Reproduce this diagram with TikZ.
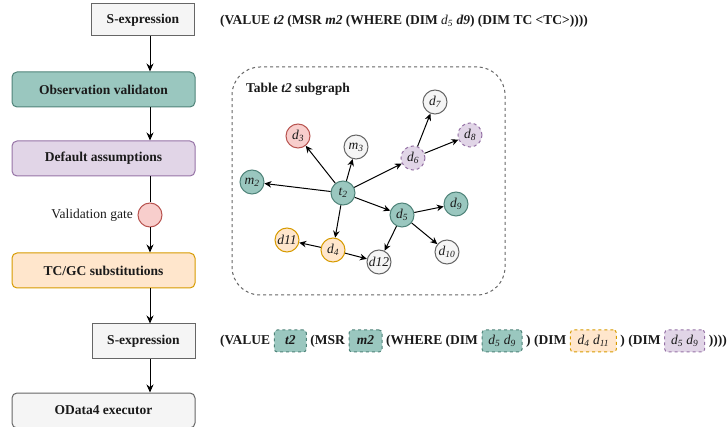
\documentclass[tikz,border=0pt]{standalone}
\usepackage{fontspec}
\setmainfont{Liberation Serif}
\usetikzlibrary{arrows.meta,positioning}
\definecolor{tealF}{HTML}{9AC7BF}
\definecolor{tealD}{HTML}{4F8379}
\definecolor{purF}{HTML}{E1D5E7}
\definecolor{purD}{HTML}{9673A6}
\definecolor{redF}{HTML}{F8CECC}
\definecolor{redD}{HTML}{B85450}
\definecolor{orF}{HTML}{FFE6CC}
\definecolor{orD}{HTML}{D79B00}
\definecolor{grF}{HTML}{F5F5F5}
\definecolor{grD}{HTML}{666666}
\definecolor{txtC}{HTML}{1A1A1A}
\begin{document}
\begin{tikzpicture}[x=1pt,y=-1pt,
  base/.style={font=\fontsize{13.5}{16}\selectfont, text=txtC},
  flow/.style={base, draw=grD, fill=grF, line width=1pt, minimum width=183pt, minimum height=35pt, rounded corners=5pt, inner sep=0, font=\fontsize{13.5}{16}\selectfont\bfseries},
  sbox/.style={base, draw=grD, fill=grF, line width=1pt, minimum width=103pt, minimum height=34pt, inner sep=0, font=\fontsize{13.5}{16}\selectfont\bfseries},
  arr/.style={-{Stealth[length=8pt,width=7pt]}, line width=1pt},
  garr/.style={-{Stealth[length=7pt,width=6.5pt]}, line width=1pt},
  gnode/.style={base, circle, minimum size=24pt, inner sep=0, line width=1pt, font=\fontsize{13.5}{16}\selectfont\itshape},
  gteal/.style={gnode, draw=tealD, fill=tealF},
  ggrey/.style={gnode, draw=grD, fill=grF},
  gpur/.style={gnode, draw=purD, fill=purF, dashed},
  gred/.style={gnode, draw=redD, fill=redF},
  gor/.style={gnode, draw=orD, fill=orF},
  txt/.style={base, inner sep=0, anchor=west, text height=9.5pt, text depth=3pt, font=\fontsize{13.5}{16}\selectfont\bfseries},
  ibox/.style={base, line width=1pt, dashed, rounded corners=3pt, minimum height=22pt, inner sep=0, text height=9.5pt, text depth=3pt, anchor=west, font=\fontsize{13.5}{16}\selectfont\itshape},
  iteal/.style={ibox, draw=tealD, fill=tealF},
  ipur/.style={ibox, draw=purD, fill=purF},
  ior/.style={ibox, draw=orD, fill=orF}
]
\useasboundingbox (0,0) rectangle (728,427);

% left flow
\node[sbox, minimum height=32pt] (sx1) at (143,20) {S-expression};
\node[flow, fill=tealF, draw=tealD] (obs) at (103.5,89.5) {Observation validaton};
\node[flow, fill=purF, draw=purD] (def) at (103.5,158.5) {Default assumptions};
\node[circle, draw=redD, fill=redF, line width=1pt, minimum size=24pt, inner sep=0] (gate) at (150,215) {};
\node[base, anchor=east, inner sep=0] (gatelbl) at (133,215) {Validation gate};
\node[flow, fill=orF, draw=orD] (tc) at (103.5,270.5) {TC/GC substitutions};
\node[sbox, minimum height=35pt] (sx2) at (143.5,341.5) {S-expression};
\node[flow] (od) at (103.5,410.5) {OData4 executor};

\draw[arr] (sx1.south -| gate.center) -- (obs.north -| gate.center);
\draw[arr] (obs.south -| gate.center) -- (def.north -| gate.center);
\draw[line width=1pt] (def.south -| gate.center) -- (gate.north);
\draw[arr] (gate.south) -- (tc.north -| gate.center);
\draw[arr] (tc.south -| gate.center) -- (sx2.north -| gate.center);
\draw[arr] (sx2.south -| gate.center) -- (od.north -| gate.center);

% top expression
\node[txt] (expr1) at (220,21) {(VALUE \textit{t2} (MSR \textit{m2} (WHERE (DIM {\mdseries\itshape d\textsubscript{5}} \textit{d9}) (DIM TC <TC>))))};

% panel
\node[draw=grD, dashed, line width=1pt, rounded corners=28pt, minimum width=273pt, minimum height=228pt, inner sep=0] (panel) at (368.5,181) {};
\node[txt] (ptitle) at (246,89) {Table \textit{t2} subgraph};

% graph nodes
\node[gteal] (t2) at (343,193) {t\textsubscript{2}};
\node[gteal] (m2) at (252,182) {m\textsubscript{2}};
\node[gred] (d3) at (298,136) {d\textsubscript{3}};
\node[ggrey] (m3) at (356,147) {m\textsubscript{3}};
\node[gpur] (d6) at (413,158) {d\textsubscript{6}};
\node[ggrey] (d7) at (435,102) {d\textsubscript{7}};
\node[gpur] (d8) at (470,135) {d\textsubscript{8}};
\node[gteal] (d5) at (402,215) {d\textsubscript{5}};
\node[gteal] (d9) at (456,204) {d\textsubscript{9}};
\node[ggrey] (d10) at (447,252) {d\textsubscript{10}};
\node[gor] (d4) at (333,250) {d\textsubscript{4}};
\node[gor] (d11) at (287,240) {d11};
\node[ggrey] (d12) at (379,262) {d12};

\foreach \b in {m2,d3,m3,d6,d5,d4} \draw[garr] (t2) -- (\b);
\draw[garr] (d6) -- (d7);
\draw[garr] (d6) -- (d8);
\draw[garr] (d5) -- (d9);
\draw[garr] (d5) -- (d10);
\draw[garr] (d5) -- (d12);
\draw[garr] (d4) -- (d11);
\draw[garr] (d4) -- (d12);

% bottom expression
\node[txt] (b1) at (220,341) {(VALUE};
\node[iteal, minimum width=32pt, right=3.4pt of b1, font=\fontsize{13.5}{16}\selectfont\bfseries\itshape] (bt2) {t2};
\node[txt, right=3.4pt of bt2] (b2) {(MSR};
\node[iteal, minimum width=33pt, right=3.4pt of b2, font=\fontsize{13.5}{16}\selectfont\bfseries\itshape] (bm2) {m2};
\node[txt, right=3.4pt of bm2] (b3) {(WHERE (DIM};
\node[iteal, minimum width=40pt, right=3.4pt of b3] (bd59) {d\textsubscript{5} d\textsubscript{9}};
\node[txt, right=3.4pt of bd59] (b4) {) (DIM};
\node[ior, minimum width=46pt, right=3.4pt of b4] (bd411) {d\textsubscript{4} d\textsubscript{11}};
\node[txt, right=3.4pt of bd411] (b5) {) (DIM};
\node[ipur, minimum width=40pt, right=3.4pt of b5] (bp59) {d\textsubscript{5} d\textsubscript{9}};
\node[txt, right=3.4pt of bp59] (b6) {))))};
\end{tikzpicture}
\end{document}
